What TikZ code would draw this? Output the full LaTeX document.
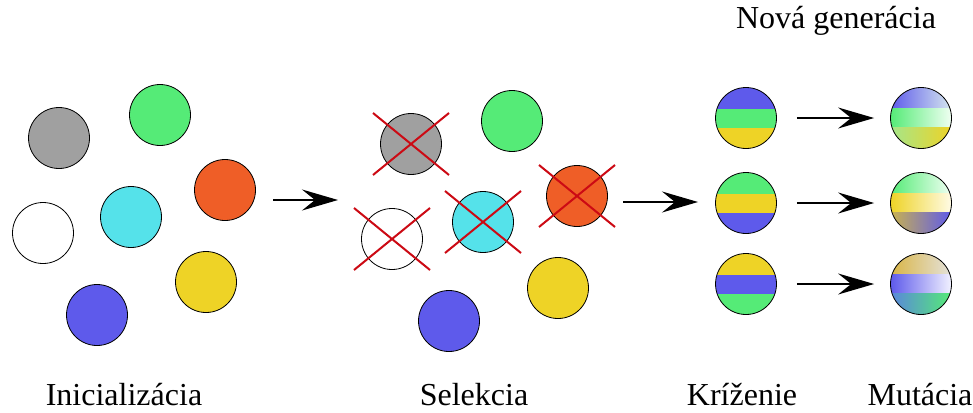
\documentclass[tikz,border=0pt]{standalone}
\usepackage{fontspec}
\setmainfont{Liberation Serif}
\usetikzlibrary{arrows.meta,calc}

\definecolor{cgray}{HTML}{A0A0A0}
\definecolor{cgreen}{HTML}{55EB77}
\definecolor{corange}{HTML}{EF5E27}
\definecolor{ccyan}{HTML}{55E2EA}
\definecolor{cyellow}{HTML}{EED326}
\definecolor{cblue}{HTML}{5E5AEB}
\definecolor{cred}{HTML}{CC0A14}
% faded ends of the mutated bands
\definecolor{mpaleblue}{HTML}{D5E7EE}
\definecolor{mpalegreen}{HTML}{F0FFF2}
\definecolor{mlime}{HTML}{A5E68A}
\definecolor{mcream}{HTML}{FFFBE6}
\definecolor{molive}{HTML}{C9B24F}
\definecolor{mgold}{HTML}{D9B545}
\definecolor{mlightgray}{HTML}{E4E2DC}
\definecolor{mwhiteblue}{HTML}{F2F2FF}
\definecolor{mteal}{HTML}{5A86DC}

\tikzset{
  ball/.style={circle, draw=black, line width=0.8pt, minimum size=61pt, inner sep=0pt, fill=#1},
  ball/.default=white,
  % three horizontal bands of solid colour
  banded/.style n args={3}{circle, draw=black, line width=0.8pt, minimum size=61pt, inner sep=0pt,
    path picture={
      \fill[#1] (path picture bounding box.north west) rectangle ([yshift=9.5pt]path picture bounding box.east);
      \fill[#2] ([yshift=9.5pt]path picture bounding box.west) rectangle ([yshift=-9.5pt]path picture bounding box.east);
      \fill[#3] ([yshift=-9.5pt]path picture bounding box.west) rectangle (path picture bounding box.south east);
    }},
  % three horizontal bands, each fading left to right
  faded/.style n args={6}{circle, draw=black, line width=0.8pt, minimum size=61pt, inner sep=0pt,
    path picture={
      \shade[left color=#1, right color=#2] (path picture bounding box.north west) rectangle ([yshift=9.5pt]path picture bounding box.east);
      \shade[left color=#3, right color=#4] ([yshift=9.5pt]path picture bounding box.west) rectangle ([yshift=-9.5pt]path picture bounding box.east);
      \shade[left color=#5, right color=#6] ([yshift=-9.5pt]path picture bounding box.west) rectangle (path picture bounding box.south east);
    }},
  flow/.style={line width=2pt, -{Stealth[length=36pt, width=21pt, inset=13pt]}},
  strike/.style={draw=cred, line width=2pt},
  caption/.style={anchor=base, inner sep=0pt, font=\fontsize{32}{38}\selectfont},
}

\begin{document}
\begin{tikzpicture}[x=1pt, y=-1pt]
  \useasboundingbox (0,0) rectangle (973,412);

  % initial population
  \node[ball=cgray]   (i1) at (59,138) {};
  \node[ball=cgreen]  (i2) at (160,115) {};
  \node[ball=corange] (i3) at (225,190) {};
  \node[ball]         (i4) at (43,233) {};
  \node[ball=ccyan]   (i5) at (131,217) {};
  \node[ball=cyellow] (i6) at (206,282) {};
  \node[ball=cblue]   (i7) at (97,315) {};

  % selection
  \node[ball=cgray]   (s1) at (411,144) {};
  \node[ball=cgreen]  (s2) at (512,121) {};
  \node[ball=corange] (s3) at (577,196) {};
  \node[ball]         (s4) at (392,239) {};
  \node[ball=ccyan]   (s5) at (483,222) {};
  \node[ball=cyellow] (s6) at (558,288) {};
  \node[ball=cblue]   (s7) at (449,321) {};

  % rejected individuals
  \foreach \n in {s1,s3,s4,s5}{
    \draw[strike] ($(\n)+(-38,-31)$) -- ($(\n)+(38,31)$);
    \draw[strike] ($(\n)+(38,-31)$) -- ($(\n)+(-38,31)$);
  }

  % crossover
  \node[banded={cblue}{cgreen}{cyellow}] (k1) at (746,118) {};
  \node[banded={cgreen}{cyellow}{cblue}] (k2) at (746,203) {};
  \node[banded={cyellow}{cblue}{cgreen}] (k3) at (746,284) {};

  % mutation
  \node[faded={cblue}{mpaleblue}{cgreen}{mpalegreen}{mlime}{cyellow}] (m1) at (921,118) {};
  \node[faded={cgreen}{mpalegreen}{cyellow}{mcream}{molive}{cblue}] (m2) at (921,203) {};
  \node[faded={mgold}{mlightgray}{cblue}{mwhiteblue}{mteal}{cgreen}] (m3) at (921,284) {};

  % arrows between stages
  \coordinate (a1s) at (273,200);
  \coordinate (a1e) at (338,200);
  \coordinate (a2s) at (623,202);
  \coordinate (a2e) at (698,202);
  \draw[flow] (a1s) -- (a1e);
  \draw[flow] (a2s) -- (a2e);
  \draw[flow, shorten <=20pt, shorten >=16pt] (k1) -- (m1);
  \draw[flow, shorten <=20pt, shorten >=16pt] (k2) -- (m2);
  \draw[flow, shorten <=20pt, shorten >=16pt] (k3) -- (m3);

  % captions
  \node[caption] (t1) at (124,405) {Inicializácia};
  \node[caption] (t2) at (474,405) {Selekcia};
  \node[caption] (t3) at (742,405) {Kríženie};
  \node[caption] (t4) at (920,405) {Mutácia};
  \node[caption] (t5) at (836,29) {Nová generácia};
\end{tikzpicture}
\end{document}
